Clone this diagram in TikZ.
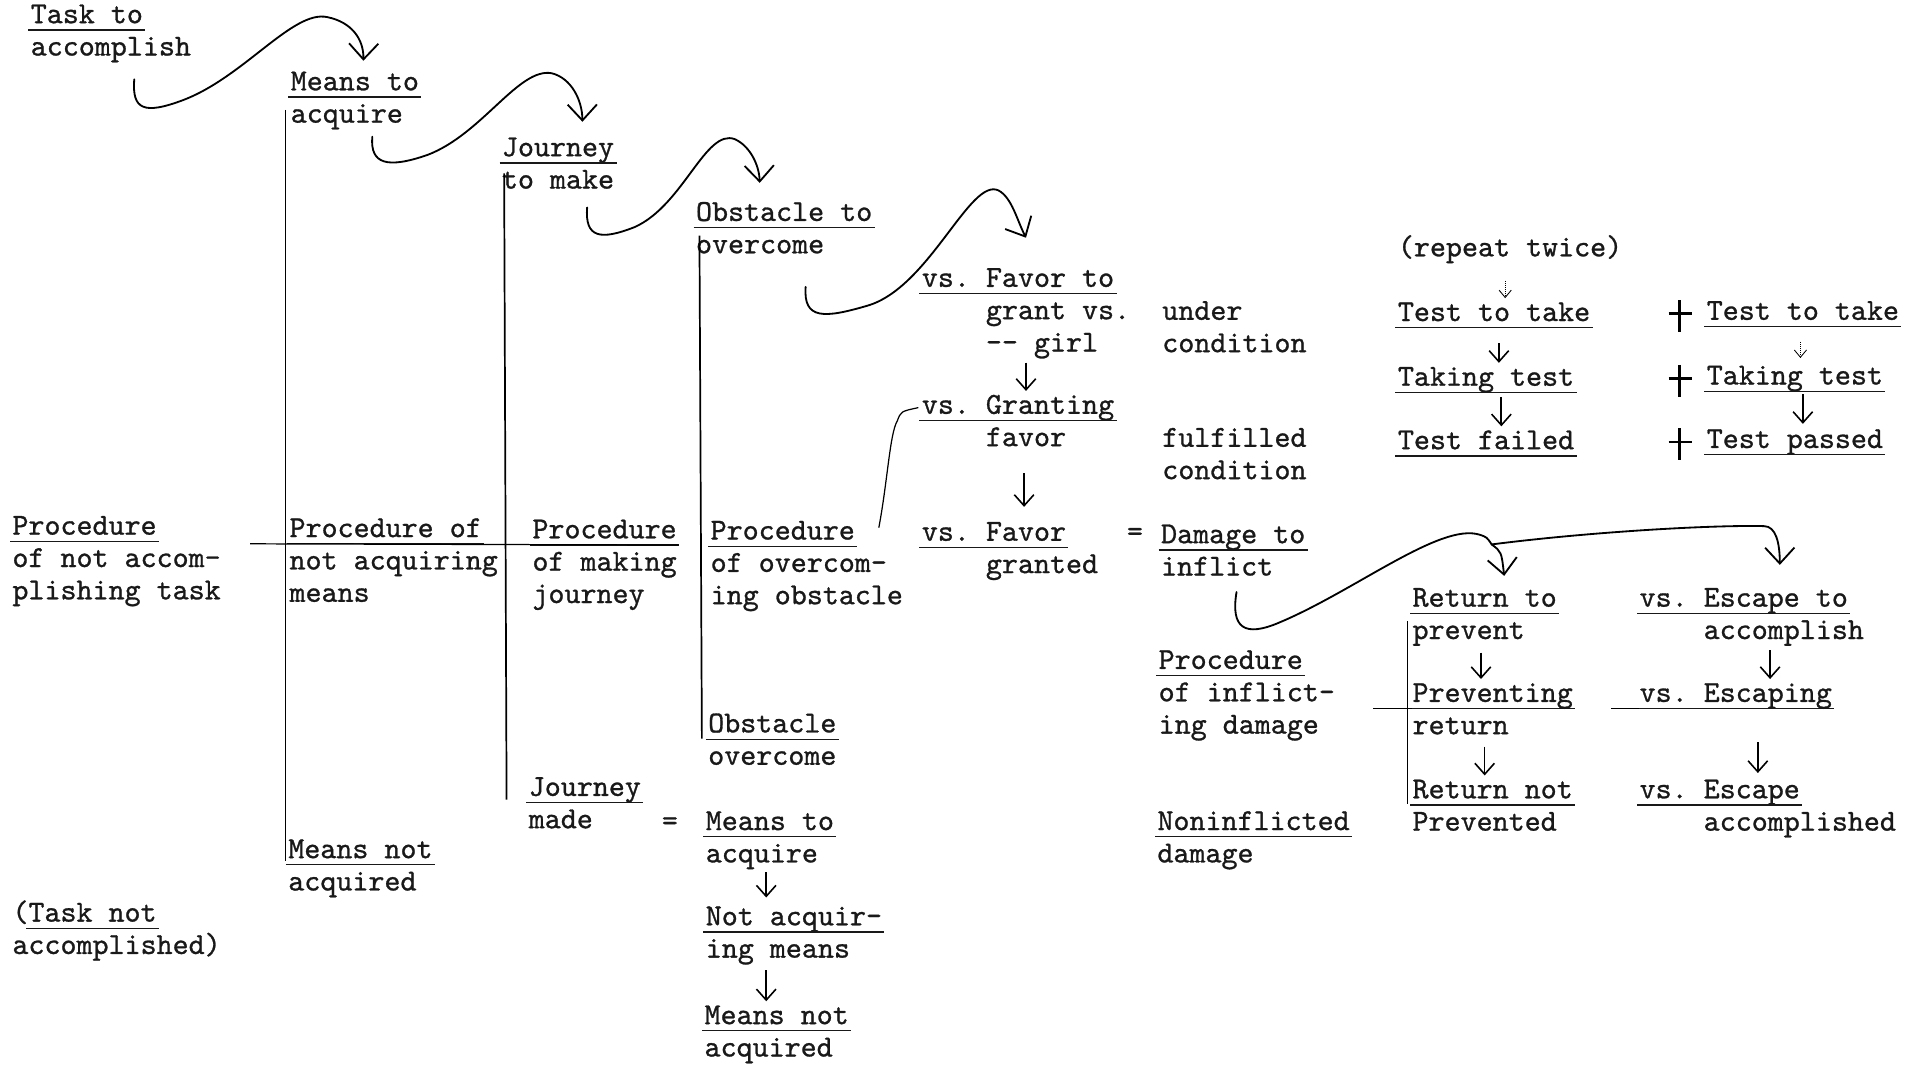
\documentclass[tikz,border=0pt]{standalone}
\usepackage{fontspec}
\usepackage{tikz}
\usetikzlibrary{arrows.meta,calc}
\newfontfamily\typer{lmmono10-regular.otf}[FakeBold=0.9]
% typed underline, the indent after "vs." and top-aligned line stacks
\newcommand{\ul}[1]{\leavevmode\setbox0\hbox{#1}\rlap{\kern-2pt\rule[-6pt]{\dimexpr\wd0+4pt\relax}{1pt}}\box0}
\newcommand{\vsx}{\phantom{vs.x}}
\newcommand{\tb}[1]{\begin{tabular}[t]{@{}l@{}}#1\end{tabular}}

\begin{document}
\frenchspacing
\begin{tikzpicture}[
  x=1pt,y=-1pt,
  tw/.style={anchor=base west,inner sep=0pt,text=black!90,font=\typer\fontsize{25}{26.5}\selectfont\frenchspacing},
  crl/.style={-{Straight Barb[length=13pt,width=24pt,line width=1.5pt]},line width=1.5pt,line cap=round},
  hnd/.style={line width=1.5pt,line cap=round},
  dn/.style={-{Straight Barb[length=9pt,width=16pt,line width=1.3pt]},line width=1.3pt},
  fnt/.style={-{Straight Barb[length=6pt,width=10pt]},densely dotted,line width=0.7pt},
  brk/.style={line width=1.4pt},
  rl/.style={line width=1pt},
  crs/.style={line width=2.2pt}
]
  \useasboundingbox (0,0) rectangle (1568,873);
  % ---------------- chain of tasks ----------------
  \node[tw] (task) at (25,19) {\tb{\ul{Task to}\\accomplish}};
  \node[tw] (means) at (238,74) {\tb{\ul{Means to}\\acquire}};
  \node[tw] (journey) at (411,128) {\tb{\ul{Journey}\\to make}};
  \node[tw] (obst) at (570,181) {\tb{\ul{Obstacle to}\\overcome}};
  \node[tw] (favor) at (755,235) {\tb{\ul{vs. Favor to}\\\vsx grant vs.\\\vsx \mbox{-}\mbox{-} girl}};
  \node[tw] (under) at (952,262) {\tb{under\\condition}};
  \node[tw] (granting) at (755,339) {\tb{\ul{vs. Granting}\\\vsx favor}};
  \node[tw] (fulfil) at (952,366) {\tb{fulfilled\\condition}};
  \node[tw] (granted) at (755,443) {\tb{\ul{vs. Favor}\\\vsx granted}};
  \node[tw] (eqa) at (923,443) {=};
  \node[tw] (damage) at (951,445) {\tb{\ul{Damage to}\\inflict}};
  % ---------------- procedures ----------------
  \node[tw] (proca) at (10,438) {\tb{\ul{Procedure}\\of not accom-\\plishing task}};
  \node[tw] (procb) at (237,440) {\tb{\ul{Procedure of}\\not acquiring\\means}};
  \node[tw] (procc) at (436,441) {\tb{\ul{Procedure}\\of making\\journey}};
  \node[tw] (procd) at (582,442) {\tb{\ul{Procedure}\\of overcom-\\ing obstacle}};
  % ---------------- outcomes ----------------
  \node[tw] (overc) at (580,600) {\tb{\ul{Obstacle}\\overcome}};
  \node[tw] (made) at (433,652) {\tb{\ul{Journey}\\made}};
  \node[tw] (eqb) at (542,680) {=};
  \node[tw] (meansb) at (578,680) {\tb{\ul{Means to}\\acquire}};
  \node[tw] (notacq) at (578,758) {\tb{\ul{Not acquir-}\\ing means}};
  \node[tw] (notacqd) at (577,839) {\tb{\ul{Means not}\\acquired}};
  \node[tw] (meansnot) at (236,703) {\tb{\ul{Means not}\\acquired}};
  \node[tw] (tasknot) at (10,755) {\tb{(\ul{Task not}\\accomplished)}};
  % ---------------- tests ----------------
  \node[tw] (repeat) at (1145,210) {\tb{(repeat twice)}};
  \node[tw] (testa) at (1145,263) {\tb{\ul{Test to take}}};
  \node[tw] (takinga) at (1145,316) {\tb{\ul{Taking test}}};
  \node[tw] (failed) at (1145,368) {\tb{\ul{Test failed}}};
  \node[tw] (testb) at (1398,262) {\tb{\ul{Test to take}}};
  \node[tw] (takingb) at (1398,315) {\tb{\ul{Taking test}}};
  \node[tw] (passed) at (1398,367) {\tb{\ul{Test passed}}};
  % ---------------- damage ----------------
  \node[tw] (inflict) at (949,548) {\tb{\ul{Procedure}\\of inflict-\\ing damage}};
  \node[tw] (noninf) at (948,680) {\tb{\ul{Noninflicted}\\damage}};
  \node[tw] (ret) at (1157,497) {\tb{\ul{Return to}\\prevent}};
  \node[tw] (prev) at (1157,575) {\tb{\ul{Preventing}\\return}};
  \node[tw] (retnot) at (1157,654) {\tb{\ul{Return not}\\Prevented}};
  \node[tw] (esc) at (1343,497) {\tb{\ul{vs. Escape to}\\\vsx accomplish}};
  \node[tw] (escing) at (1343,575) {\tb{\ul{vs. Escaping}}};
  \node[tw] (escd) at (1343,654) {\tb{\ul{vs. Escape}\\\vsx accomplished}};
  % ---------------- brackets and rules ----------------
  \draw[brk] ($(means.base west)+(-4,16)$) -- ($(meansnot.base west)+(-2,2)$);
  \draw[brk] ($(journey.base west)+(2,14)$) -- ($(made.base west)+(-18,3)$);
  \draw[brk] ($(obst.base west)+(3,12)$) -- ($(overc.base west)+(-5,5)$);
  \draw[brk] ($(ret.base west)+(-4,12)$) -- ($(retnot.base west)+(-4,5)$);
  \draw[rl] ($(procb.base west)+(-32,5.5)$) -- ($(procc.base west)+(120,5.5)$);
  \draw[rl] ($(prev.base west)+(-32,5.5)$) -- ($(prev.base west)+(0,5.5)$);
  \draw[rl] ($(escing.base west)+(-23,5.5)$) -- ($(escing.base west)+(0,5.5)$);
  % ---------------- hand arrows ----------------
  \draw[crl] ($(task.base west)+(85,46)$) .. controls (108,90) and (118,94) .. (150,82)
    .. controls (200,63) and (240,8) .. (268,14) .. controls (288,18) and (298,32) .. ([xshift=7pt,yshift=5.5pt]means.north);
  \draw[crl] ($(means.base west)+(67,38)$) .. controls (303,135) and (318,138) .. (350,127)
    .. controls (395,110) and (425,55) .. (452,60) .. controls (468,64) and (477,82) .. ([xshift=20pt,yshift=9.5pt]journey.north);
  \draw[crl] ($(journey.base west)+(70,42)$) .. controls (479,195) and (492,197) .. (520,186)
    .. controls (560,168) and (578,105) .. (602,114) .. controls (615,120) and (622,136) .. ([xshift=-20pt,yshift=12.5pt]obst.north);
  \draw[crl] ($(obst.base west)+(90,54)$) .. controls (658,262) and (675,261) .. (712,250)
    .. controls (762,234) and (795,145) .. (818,156) .. controls (829,162) and (833,180) .. ([yshift=21.5pt]favor.north);
  \draw[hnd,line width=1pt] ($(procd.base west)+(138,-10)$) .. controls (727,395) and (729,355) .. (735,345)
    .. controls (738,337) .. ([shift={(-3pt,5pt)}]granting.base west);
  \coordinate (fork) at (1222,446);
  \draw[hnd] ($(damage.base west)+(62,40)$) .. controls (1008,515) and (1020,522) .. (1048,510)
    .. controls (1110,484) and (1180,428) .. (1212,438) .. controls (1218,440) .. (fork);
  \draw[crl] (fork) .. controls (1230,452) .. ([xshift=16pt,yshift=6.5pt]ret.north);
  \draw[crl] (fork) .. controls (1300,436) and (1400,430) .. (1445,431)
    .. controls (1455,431) and (1458,445) .. ([xshift=23pt,yshift=15.5pt]esc.north);
  % ---------------- down arrows ----------------
  \draw[dn,shorten <=1pt] (favor.south) -- (favor.south |- granting.north);
  \draw[dn,line width=1.7pt,shorten <=14pt,shorten >=9pt] ([xshift=5pt]granting.south) -- ([xshift=5pt]granting.south |- granted.north);
  \draw[dn,shorten >=4pt] ([xshift=-3pt]meansb.south) -- ([xshift=-3pt]meansb.south |- notacq.north);
  \draw[dn,shorten <=2pt] ([xshift=-3pt]meansb.south |- notacq.south) -- ([xshift=-3pt]meansb.south |- notacqd.north);
  \draw[fnt,shorten <=12pt] ([xshift=-4pt]repeat.south) -- ([xshift=-4pt]repeat.south |- testa.north);
  \draw[dn,shorten <=10pt] ([xshift=4pt]testa.south) -- ([xshift=4pt]testa.south |- takinga.north);
  \draw[dn,line width=1.7pt,shorten <=1pt] ([xshift=6pt]testa.south |- takinga.south) -- ([xshift=6pt]testa.south |- failed.north);
  \draw[fnt,shorten <=10pt,shorten >=3pt] ([xshift=-2pt]testb.south) -- ([xshift=-2pt]testb.south |- takingb.north);
  \draw[dn,line width=1.7pt,shorten >=1pt] (testb.south |- takingb.south) -- (testb.south |- passed.north);
  \draw[dn,shorten <=3pt] ([xshift=-3pt]ret.south) -- ([xshift=-3pt]ret.south |- prev.north);
  \draw[dn,shorten <=2pt] (ret.south |- prev.south) -- (ret.south |- retnot.north);
  \draw[dn,line width=1.7pt,shorten <=1pt] ([xshift=15pt]esc.south) -- ([xshift=15pt]esc.south |- escing.north);
  \draw[dn,shorten <=25pt,shorten >=2pt] ([xshift=5pt]esc.south |- escing.south) -- ([xshift=5pt]esc.south |- escd.north);
  % ---------------- crosses ----------------
  \foreach \n in {testb,takingb,passed}{
    \draw[crs] ($(\n.base west)+(-22,-16)$) -- ++(0,26) ($(\n.base west)+(-31,-5)$) -- ++(19,0);}
\end{tikzpicture}
\end{document}
